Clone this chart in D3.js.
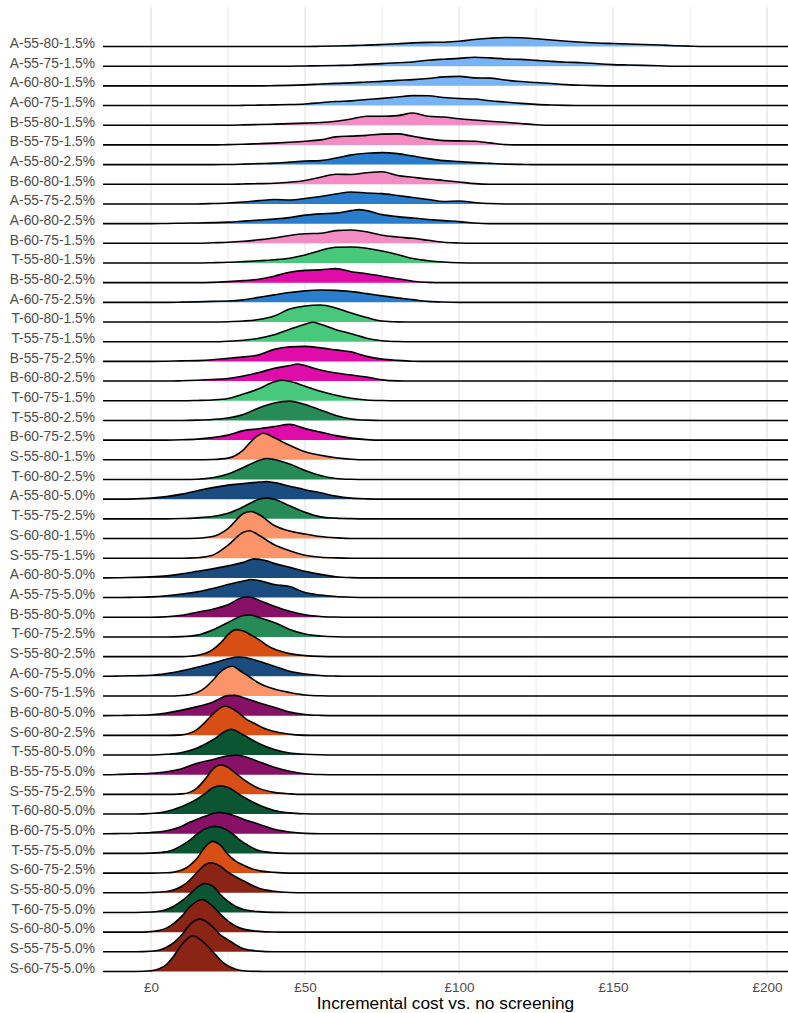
<!DOCTYPE html>
<html><head><meta charset="utf-8">
<script src="https://cdn.jsdelivr.net/npm/d3@7"></script>
<style>
body{margin:0;background:#fff;}
svg{display:block;}
text{font-family:"Liberation Sans",Arial,Helvetica,sans-serif;}
</style>
</head><body>
<svg id="chart" width="788" height="1013"></svg>
<script>
// ---------------- data ----------------
const categories = [
 "A-55-80-1.5%","A-55-75-1.5%","A-60-80-1.5%","A-60-75-1.5%","B-55-80-1.5%","B-55-75-1.5%",
 "A-55-80-2.5%","B-60-80-1.5%","A-55-75-2.5%","A-60-80-2.5%","B-60-75-1.5%","T-55-80-1.5%",
 "B-55-80-2.5%","A-60-75-2.5%","T-60-80-1.5%","T-55-75-1.5%","B-55-75-2.5%","B-60-80-2.5%",
 "T-60-75-1.5%","T-55-80-2.5%","B-60-75-2.5%","S-55-80-1.5%","T-60-80-2.5%","A-55-80-5.0%",
 "T-55-75-2.5%","S-60-80-1.5%","S-55-75-1.5%","A-60-80-5.0%","A-55-75-5.0%","B-55-80-5.0%",
 "T-60-75-2.5%","S-55-80-2.5%","A-60-75-5.0%","S-60-75-1.5%","B-60-80-5.0%","S-60-80-2.5%",
 "T-55-80-5.0%","B-55-75-5.0%","S-55-75-2.5%","T-60-80-5.0%","B-60-75-5.0%","T-55-75-5.0%",
 "S-60-75-2.5%","S-55-80-5.0%","T-60-75-5.0%","S-60-80-5.0%","S-55-75-5.0%","S-60-75-5.0%"
];

// fill colour per strategy + threshold group
const groups = ["A-1.5%","B-1.5%","A-2.5%","T-1.5%","B-2.5%","T-2.5%","S-1.5%","A-5.0%","B-5.0%","S-2.5%","T-5.0%","S-5.0%"];
const groupColors = ["#78B4F5","#F48CC4","#2A7DCD","#47C87A","#E00CAA","#268B57","#FC946A","#1A4C80","#861167","#D84F16","#0B5533","#8A2415"];

const xTickValues = [0, 50, 100, 150, 200];
const xTickLabels = ["£0", "£50", "£100", "£150", "£200"];
const xMinorValues = [25, 75, 125, 175];
const xTitle = "Incremental cost vs. no screening";
const xDomain = [-15.6, 206.8];

// relative density at given costs (£), one list per category
const densities = [
 [[50,0],[55,0.2],[60,0.5],[65,0.9],[70,1.4],[75,2],[80,2.7],[85,3.6],[90,4.1],[95,4.3],[100,5.2],[105,7],[110,8.3],[115,9],[120,8.8],[125,7.8],[130,6.5],[135,5.3],[140,4.3],[145,3.5],[150,3],[155,2.5],[160,2],[165,1.5],[170,0.8],[175,0.3],[180,0]],
 [[45,0],[50,0.2],[55,0.4],[60,0.7],[65,1],[70,1.8],[75,2.6],[80,3.5],[85,4.2],[90,6],[95,7],[100,7.8],[105,9],[110,8.3],[115,7.2],[120,6.8],[125,5.8],[130,4.8],[135,4],[140,3.5],[145,2.4],[150,1.6],[155,1.2],[160,0.8],[165,0.4],[170,0]],
 [[35,0],[40,0.2],[45,0.5],[50,1],[55,1.8],[60,2.5],[65,3],[70,3.8],[75,4.5],[80,5.5],[85,6.2],[90,7.3],[95,9],[100,9.5],[105,8],[110,7.7],[115,5.8],[120,4.3],[125,3.3],[130,2.3],[135,1.2],[140,0.6],[145,0.2],[150,0]],
 [[25,0],[30,0.2],[35,0.4],[40,0.7],[45,1],[50,1.6],[55,2.8],[60,4],[65,4.7],[70,6],[75,7.2],[80,8.5],[85,9.9],[90,9.8],[95,8],[100,7],[105,6.5],[110,4.8],[115,3.5],[120,2.2],[125,1.2],[130,0.6],[135,0.2],[140,0]],
 [[25,0],[30,0.3],[35,0.7],[40,1.1],[45,1.6],[50,2.1],[55,2.7],[60,4],[65,6.3],[70,9],[75,9],[80,9.6],[85,12.2],[90,9],[95,8.2],[100,6.5],[105,5.2],[110,4],[115,3],[120,1.7],[125,0.5],[130,0]],
 [[20,0],[25,0.3],[30,0.6],[35,1.2],[40,1.8],[45,2.6],[50,3.6],[55,5],[60,8],[65,8.8],[70,9.5],[75,10.8],[80,11],[85,8.6],[90,6],[95,4.3],[100,4],[105,3.7],[110,2],[115,0.3],[120,0]],
 [[20,0],[25,0.1],[30,0.5],[35,1],[40,1.5],[45,2.5],[50,3.5],[55,4],[60,6.5],[65,9.7],[70,11.3],[75,12],[80,11],[85,8.5],[90,6],[95,4],[100,3],[105,2],[110,1.2],[115,0.5],[120,0.2],[125,0]],
 [[25,0],[30,0.3],[35,0.6],[40,1],[45,2],[50,3.8],[55,7],[60,10],[65,9.8],[70,11.5],[75,12.5],[80,8.8],[85,7],[90,5.2],[95,3.8],[100,2.3],[105,0.6],[110,0]],
 [[15,0],[20,0.4],[25,1],[30,2],[35,3.3],[40,4.5],[45,4],[50,5.5],[55,7.5],[60,10],[65,12],[70,11],[75,10.3],[80,8.5],[85,6.5],[90,4.5],[95,2.5],[100,3],[105,1.5],[110,0.4],[115,0]],
 [[0,0],[5,0.2],[10,0.4],[15,0.7],[20,1],[25,1.5],[30,2.5],[35,3.5],[40,4.5],[45,6],[50,8.5],[55,9.8],[60,10.5],[65,13],[67.5,14],[70,13],[75,9],[80,7],[85,5.6],[90,4.2],[95,3],[100,2],[105,0.6],[110,0]],
 [[15,0],[20,0.5],[25,1],[30,2],[35,3.5],[40,5.3],[45,7.8],[50,9.5],[55,10],[60,12.7],[65,13.3],[70,11.5],[75,8],[80,6.3],[85,5],[90,3],[95,1],[100,0.3],[105,0]],
 [[15,0],[20,0.3],[25,0.7],[30,1.4],[35,2.2],[40,3.2],[45,4.8],[50,8],[55,12.5],[60,15.7],[65,16],[70,14.8],[75,12],[80,8.5],[85,4.5],[90,2.3],[95,1],[100,0.3],[105,0]],
 [[15,0],[20,0.3],[25,1],[30,2],[35,3.5],[40,6.5],[45,10.5],[50,12.3],[55,12.8],[60,14],[65,11],[70,9],[75,6.5],[80,4],[85,1.5],[90,0.3],[95,0]],
 [[5,0],[10,0.2],[15,0.5],[20,1],[25,1.3],[30,2.5],[35,5],[40,7.5],[45,9.8],[50,11.5],[55,12.3],[60,12],[65,10.7],[70,8.7],[75,6.5],[80,4.5],[85,2.7],[90,1],[95,0.3],[100,0]],
 [[20,0],[25,0.3],[30,1],[35,2.5],[40,6],[45,13],[50,16],[55,17],[60,14],[65,9],[70,4.5],[75,1],[80,0.2],[85,0]],
 [[20,0],[25,0.5],[30,1.5],[35,3.5],[40,7],[45,12.5],[50,17.5],[52.5,19.5],[55,17.5],[60,12],[65,8],[70,3.5],[75,1],[80,0.2],[85,0]],
 [[0,0],[5,0.2],[10,0.5],[15,0.8],[20,1.6],[25,3],[30,4.5],[35,6.5],[40,12],[45,14.5],[50,15],[55,13.5],[60,11.5],[65,9.5],[70,5],[75,2.3],[80,1],[85,0.2],[90,0]],
 [[5,0],[10,0.3],[15,0.8],[20,1.5],[25,2.5],[30,5],[35,8.5],[40,12.8],[45,15.5],[47.5,17],[50,15.5],[55,11],[60,8],[65,6],[70,4],[75,1.2],[80,0.2],[85,0]],
 [[10,0],[15,0.3],[20,0.8],[25,2.3],[30,6.7],[35,12],[40,19],[42.5,20.5],[45,19.5],[50,14.5],[55,9.5],[60,5.5],[65,2.5],[70,0.8],[75,0.2],[80,0]],
 [[10,0],[15,0.3],[20,1],[25,2.5],[30,6],[35,12.5],[40,17.5],[45,19.3],[50,16],[55,10.5],[60,5],[65,1.5],[70,0.3],[75,0]],
 [[5,0],[10,0.3],[15,1],[20,2.5],[25,5],[30,9.5],[35,11.3],[40,13.5],[45,15.7],[50,11.5],[55,8],[60,4.5],[65,2],[70,0.5],[75,0]],
 [[15,0],[20,0.3],[25,1.7],[30,10],[33,20],[36.5,26.5],[40,22],[45,14.5],[50,8],[55,4.5],[60,2],[65,0.5],[70,0]],
 [[10,0],[15,0.3],[20,1.7],[25,5.5],[30,12],[35,19],[37.5,21],[40,20],[45,15.5],[50,9],[55,4],[60,1],[65,0.2],[70,0]],
 [[-10,0],[-5,0.3],[0,1],[5,2.5],[10,5],[15,8.5],[20,11.5],[25,14],[30,15.5],[35,17],[37.5,17.5],[40,16.5],[45,13],[50,9.5],[55,6.5],[60,3],[65,1],[70,0.3],[75,0]],
 [[5,0],[10,0.3],[15,1],[20,2.3],[25,5.5],[30,12],[35,19.5],[37.5,20.7],[40,19.5],[45,13],[50,6.5],[55,2],[60,0.7],[65,0.2],[70,0]],
 [[10,0],[15,0.3],[20,2],[25,10],[30,25],[32.5,27],[35,24],[40,13],[45,7.5],[50,4.5],[55,2],[60,0.7],[65,0]],
 [[10,0],[15,0.5],[20,3],[25,13],[30,26],[32,27.5],[35,23],[40,13.5],[45,7.5],[50,3],[55,1],[60,0.3],[65,0]],
 [[-15,0],[-10,0.2],[-5,0.5],[0,1],[5,2],[10,4],[15,6.5],[20,9],[25,12],[30,15.5],[33.5,19],[37.5,17],[40,14.5],[45,10.5],[50,6.5],[55,3.5],[60,1.2],[65,0.3],[70,0]],
 [[-15,0],[-10,0.1],[-5,0.3],[0,0.7],[5,1.8],[10,3.5],[15,5.7],[20,9],[25,13],[30,16.5],[32.5,18],[35,17],[40,13],[45,11],[50,5],[55,2.5],[60,1],[65,0.3],[70,0]],
 [[0,0],[5,0.5],[10,2],[15,5],[20,8],[25,12.5],[30,20],[32,20.3],[35,17],[40,11],[45,6],[50,2.5],[55,0.8],[60,0.2],[65,0]],
 [[5,0],[10,0.3],[15,1.8],[20,7],[25,14.5],[30,21.5],[32,22],[35,19.5],[40,14.5],[45,7.5],[50,3],[55,1],[60,0.2],[65,0]],
 [[10,0],[12.5,0.3],[15,1.2],[17.5,3],[20,7],[22.5,13.5],[25,22],[27.5,27],[30,25.5],[32.5,21.5],[35,17],[37.5,11.5],[40,7.5],[45,3],[50,1],[55,0.2],[60,0]],
 [[-15,0],[-10,0.3],[-5,0.6],[0,1],[5,2.7],[10,5.5],[15,9],[20,13],[25,17.5],[28,19.3],[30,19],[35,15],[40,10],[45,5],[50,2.3],[55,0.8],[60,0.2],[65,0]],
 [[5,0],[10,0.5],[15,3.5],[17.5,8],[20,15.5],[22.5,24],[25,29],[26.5,29.7],[29,25],[32,19],[35,13],[40,7],[45,3.5],[50,1],[55,0.2],[60,0]],
 [[-15,0],[-10,0.2],[-5,0.4],[0,0.9],[5,2.5],[10,5.5],[15,9],[20,13.5],[25,20],[27,20.3],[30,18],[35,13],[40,8.3],[45,3.5],[50,1.2],[55,0.3],[60,0]],
 [[5,0],[10,0.5],[12.5,2],[15,6],[17.5,13],[20,21],[22.5,27.5],[24,29.3],[26.5,26.5],[29,21],[31,16],[33.5,12],[37.5,6],[42,2.5],[47,0.5],[52,0]],
 [[0,0],[5,0.7],[10,2.5],[15,7],[20,15],[25,25],[26,25.7],[30,20],[35,11.5],[40,5.5],[45,2],[50,0.8],[55,0.2],[60,0]],
 [[-15,0],[-10,0.3],[-5,0.8],[0,1.5],[5,3],[10,6],[15,11.5],[20,15],[25,19],[28,19.5],[30,18.5],[35,13],[40,7.5],[45,3.5],[50,1],[55,0.2],[60,0]],
 [[5,0],[10,0.5],[12.5,2],[15,6.5],[17.5,15],[20,25],[22.5,29.3],[25,27],[27.5,21],[30,15],[35,6],[40,2],[45,0.5],[50,0]],
 [[-5,0],[0,0.5],[5,2.5],[10,7.5],[12.5,11],[15,15],[17.5,20.5],[20,26],[22.5,28.3],[25,26.5],[30,17],[35,9],[40,3.5],[45,1.2],[50,0.3],[55,0]],
 [[-15,0],[-10,0.2],[-5,0.5],[0,1.2],[5,3],[10,7.5],[12.5,11.5],[15,14.5],[17.5,17.5],[22,21.3],[25,20],[30,14.5],[35,9.5],[40,4.5],[45,1.8],[50,0.4],[55,0]],
 [[-5,0],[0,0.3],[5,1.5],[7.5,4],[10,8],[12.5,13],[15,19.5],[17.5,24.5],[20.8,27],[24,24.5],[26.5,19.5],[29,13],[31.5,8],[34,4],[37,1.5],[42,0.3],[47,0]],
 [[0,0],[5,0.3],[7.5,1],[10,3],[12.5,7.5],[15,15],[17.5,26],[20,31.7],[22.5,28],[25,18.5],[27.5,12],[30,8],[32.5,4.5],[35,2.5],[40,0.7],[45,0]],
 [[-5,0],[0,0.3],[5,1.2],[7.5,3],[10,6.5],[12.5,12.5],[15,20.5],[17.5,28],[19.5,30],[22.5,26.5],[25,20.5],[27.5,16],[30,12],[35,4.5],[40,1.5],[45,0.3],[50,0]],
 [[-5,0],[0,0.4],[2.5,1.2],[5,3],[7.5,6.5],[10,11.5],[12.5,18],[15,25],[17.5,29],[20,26.5],[22.5,18],[25,11],[27.5,6],[30,3],[35,0.8],[40,0.1],[45,0]],
 [[-5,0],[0,0.5],[2.5,1.5],[5,4],[7.5,9],[10,16],[12.5,25],[16.5,32.7],[20,26],[22.5,18],[25,11],[27.5,6],[30,3],[35,0.8],[40,0.1],[45,0]],
 [[-5,0],[0,0.5],[2.5,1.5],[5,4.5],[7.5,9.5],[10,17],[12.5,27],[16,32.7],[20,25],[22.5,17],[25,12],[27.5,7],[30,3],[35,0.7],[40,0.1],[45,0]],
 [[-5,0],[0,0.8],[2.5,2.5],[5,7],[7.5,16],[10,27],[13.5,35.7],[17.5,28],[20,20],[22.5,11.5],[25,5.5],[27.5,2.3],[30,0.8],[35,0.1],[40,0]]
];

// ---------------- drawing ----------------
const panel = {left: 103, right: 788, top: 7, bottom: 975};
const svg = d3.select("#chart");

const x = d3.scaleLinear().domain(xDomain).range([panel.left, panel.right]);
const y = d3.scalePoint().domain(categories).range([46.5, 971.5]);
const rowStep = y.step();
const hScale = d3.scaleLinear().domain([0, 10]).range([0, 10 * rowStep / 19.68]);
const color = d3.scaleOrdinal().domain(groups).range(groupColors);
const groupOf = c => { const p = c.split("-"); return p[0] + "-" + p[3]; };

// grid
const grid = svg.append("g");
grid.selectAll("line.minor").data(xMinorValues).join("line")
  .attr("x1", d => x(d)).attr("x2", d => x(d))
  .attr("y1", panel.top).attr("y2", panel.bottom)
  .attr("stroke", "#E6E6E6").attr("stroke-width", 0.8);
grid.selectAll("line.major").data(xTickValues).join("line")
  .attr("x1", d => x(d)).attr("x2", d => x(d))
  .attr("y1", panel.top).attr("y2", panel.bottom)
  .attr("stroke", "#E4E4E4").attr("stroke-width", 1.2);

// ridges
const area = d3.area().curve(d3.curveMonotoneX).x(d => x(d[0]));
const line = d3.line().curve(d3.curveMonotoneX).x(d => x(d[0]));

const ridges = svg.append("g");
categories.forEach((cat, i) => {
  const base = y(cat);
  const pts = [[xDomain[0], 0]].concat(densities[i], [[xDomain[1], 0]]);
  const g = ridges.append("g");
  g.append("path").datum(pts)
    .attr("d", area.y0(base).y1(d => base - hScale(d[1])))
    .attr("fill", color(groupOf(cat)));
  g.append("path").datum(pts)
    .attr("d", line.y(d => base - hScale(d[1])))
    .attr("fill", "none").attr("stroke", "#000").attr("stroke-width", 1.6)
    .attr("stroke-linejoin", "round");
});

// y axis labels
const yAxis = d3.axisLeft(y).tickSize(0).tickPadding(8);
const yg = svg.append("g").attr("transform", `translate(${panel.left},0)`).call(yAxis);
yg.select(".domain").remove();
yg.selectAll("text").attr("fill", "#4D4D4D").attr("font-size", "13.8px")
  .attr("dy", "0.06em").attr("font-family", '"Liberation Sans",Arial,sans-serif');

// x axis
const xAxis = d3.axisBottom(x).tickValues(xTickValues)
  .tickFormat((d, i) => xTickLabels[i]).tickSize(0).tickPadding(7);
const xg = svg.append("g").attr("transform", `translate(0,${panel.bottom})`).call(xAxis);
xg.select(".domain").remove();
xg.selectAll("text").attr("fill", "#4D4D4D").attr("font-size", "13.5px")
  .attr("font-family", '"Liberation Sans",Arial,sans-serif');

svg.append("text")
  .attr("x", (panel.left + panel.right) / 2).attr("y", 1009)
  .attr("text-anchor", "middle").attr("font-size", "17.3px").attr("fill", "#000")
  .text(xTitle);
</script>
</body></html>
